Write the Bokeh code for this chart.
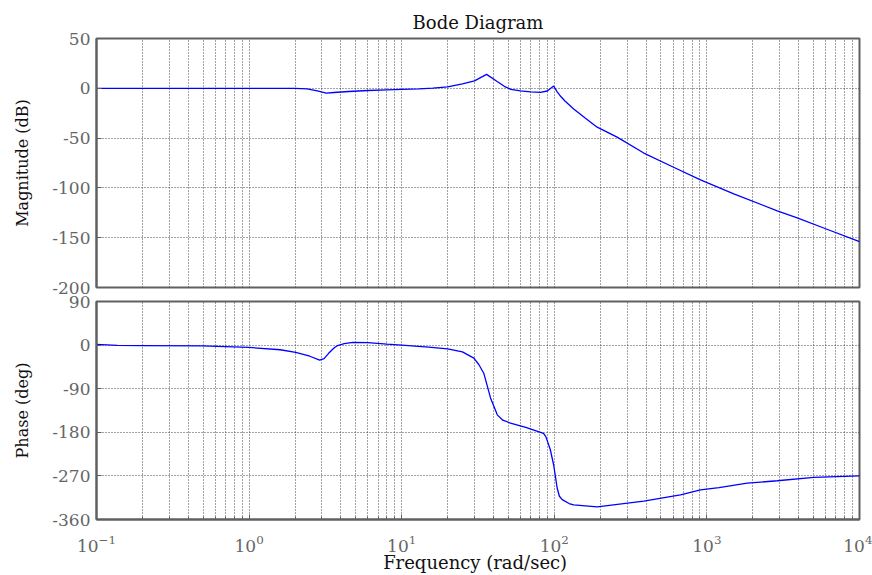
from bokeh.plotting import figure
from bokeh.layouts import column
from bokeh.models import Range1d, FixedTicker
from bokeh.embed import file_html
from bokeh.resources import INLINE

# ---- data ----
mag_freq = [0.1, 0.5, 1, 2, 2.4, 2.8, 3.2, 3.6, 4.5, 6, 8, 10, 13, 16, 20, 25, 30,
            36, 42, 47, 52, 60, 70, 81, 90, 99, 104, 110, 117, 134, 160, 191, 258, 386,
            600, 908, 1500, 2890, 3907, 6000, 10000]
mag_db = [0, 0, 0, 0, -0.5, -2.5, -4.8, -4.2, -3.2, -2.2, -1.5, -1, -0.5, 0.2, 1.5, 4.5, 7.5,
          14, 7, 2, -1, -2.5, -3.5, -4, -2.7, 2.3, -3, -8, -12.5, -20.7, -30, -39, -49, -65,
          -79, -92, -106, -123, -130, -141, -154]

ph_freq = [0.1, 0.137, 0.2, 0.49, 1, 1.6, 2.02, 2.5, 2.9, 3.1, 3.32, 3.6, 3.8, 4.2, 4.8, 6, 8,
           10, 15, 20, 25, 29.7, 32, 34.5, 38.2, 42.3, 46, 51.6, 65, 85, 88, 94, 99, 104.4,
           108, 112.7, 125, 134, 191, 386, 671, 908, 1200, 1837, 2890, 5024, 10000]
ph_deg = [1.4, -0.7, -1, -1.4, -4.8, -9.6, -15, -23, -31, -28, -17, -6, -1, 3, 5.5, 5, 2,
          0, -4, -8, -14, -27, -40, -58, -109, -144, -155, -161, -170, -182, -189, -215, -247, -295,
          -312, -319, -327, -330, -334, -322, -309, -299, -294, -285, -280, -273, -270]

mag_ticks = [-200, -150, -100, -50, 0, 50]
ph_ticks = [-360, -270, -180, -90, 0, 90]
x_major = [0.1, 1, 10, 100, 1000, 10000]
x_minor = [k * 10.0 ** d for d in range(-1, 4) for k in range(2, 10)]

SERIF = "DejaVu Serif"
FRAME = "#606060"
GRID = "#333333"


def style(p, ylabel, yticks):
    p.outline_line_color = FRAME
    p.outline_line_width = 2
    p.xaxis.ticker = FixedTicker(ticks=x_major, minor_ticks=x_minor)
    p.yaxis.ticker = FixedTicker(ticks=yticks)
    p.yaxis.major_label_overrides = {t: str(t) for t in yticks}
    for ax in (p.xaxis, p.yaxis):
        ax.axis_line_color = FRAME
        ax.axis_line_width = 2
        ax.major_tick_in = 5
        ax.major_tick_out = 0
        ax.minor_tick_in = 3
        ax.minor_tick_out = 0
        ax.major_tick_line_color = FRAME
        ax.minor_tick_line_color = FRAME
        ax.major_label_text_font = SERIF
        ax.major_label_text_font_size = "17px"
        ax.major_label_text_color = "#666666"
        ax.axis_label_text_font = SERIF
        ax.axis_label_text_font_style = "normal"
        ax.axis_label_text_color = "#111111"
    p.yaxis.axis_label = ylabel
    p.yaxis.axis_label_text_font_size = "16px"
    p.yaxis.axis_label_standoff = 17
    p.yaxis.major_label_standoff = 6
    p.yaxis.minor_tick_line_color = None
    for g in (p.xgrid, p.ygrid):
        g.grid_line_color = GRID
        g.grid_line_dash = "1 2"
        g.grid_line_alpha = 0.9
        g.grid_line_width = 1
    p.xgrid.minor_grid_line_color = GRID
    p.xgrid.minor_grid_line_dash = "1 2"
    p.xgrid.minor_grid_line_alpha = 0.9
    p.background_fill_color = "white"
    p.border_fill_color = None


# magnitude panel: full-page canvas, frame at top
p1 = figure(width=872, height=575, x_axis_type="log",
            x_range=Range1d(0.1, 10000), y_range=Range1d(-200, 50),
            output_backend="svg", toolbar_location=None,
            min_border_left=96, min_border_right=13, min_border_top=38, min_border_bottom=288,
            title="Bode Diagram")
p1.title.align = "center"
p1.title.text_font = SERIF
p1.title.text_font_size = "18px"
p1.title.text_font_style = "normal"
p1.title.text_color = "#111111"
p1.title.standoff = 12
style(p1, "Magnitude (dB)", mag_ticks)
p1.xaxis.visible = False
p1.line(mag_freq, mag_db, line_color="#0000ff", line_width=1.3)

# phase panel: full-page canvas, frame at bottom, laid over the first one
p2 = figure(width=872, height=575, x_axis_type="log",
            x_range=p1.x_range, y_range=Range1d(-360, 90),
            output_backend="svg", toolbar_location=None,
            min_border_left=96, min_border_right=13, min_border_top=301, min_border_bottom=55,
            margin=(-575, 0, 0, 0))
style(p2, "Phase (deg)", ph_ticks)
p2.xaxis.axis_label = "Frequency  (rad/sec)"
p2.xaxis.axis_label_text_font_size = "18px"
p2.xaxis.axis_label_standoff = -3
p2.xaxis.major_label_standoff = 15
p2.line(ph_freq, ph_deg, line_color="#0000ff", line_width=1.3)

layout = column(p1, p2, spacing=0)
open("out.html", "w").write(file_html(layout, INLINE))
